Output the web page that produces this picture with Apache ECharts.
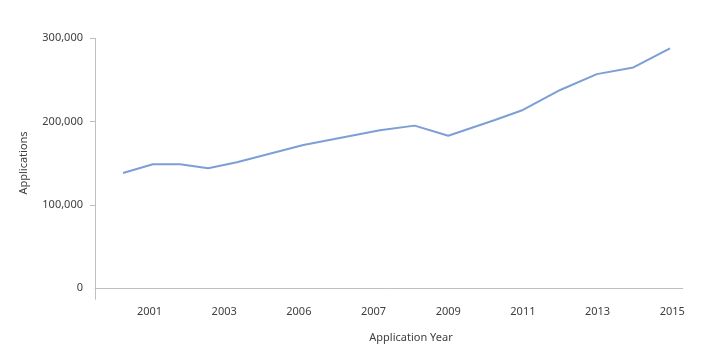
<!DOCTYPE html>
<html>
<head>
<meta charset="utf-8">
<script src="https://cdn.jsdelivr.net/npm/echarts@6/dist/echarts.min.js"></script>
<style>html,body{margin:0;padding:0;background:#fff}#c{width:720px;height:360px}</style>
</head>
<body>
<div id="c"></div>
<script>
// Data (x in years, y in applications)
const years = [2000.29, 2001.09, 2001.82, 2002.57, 2003.34, 2005.12, 2007.17, 2008.1, 2009.0, 2010.25, 2011.0, 2012.0, 2012.98, 2013.96, 2014.94];
const applications = [138400, 148800, 148800, 144000, 151200, 172000, 189600, 195200, 183000, 202000, 214000, 238000, 257000, 265000, 288000];
const xTickValues = [2001, 2003, 2005, 2007, 2009, 2011, 2013, 2015];
const xTickLabels = ['2001', '2003', '2006', '2007', '2009', '2011', '2013', '2015'];
const yTickValues = [0, 100000, 200000, 300000];

const FONT = 'Noto Sans';
const chart = echarts.init(document.getElementById('c'), null, {renderer: 'canvas'});
chart.setOption({
  animation: false,
  backgroundColor: '#ffffff',
  grid: {left: 95, right: 37.3, top: 38.3, bottom: 60.7, containLabel: false},
  xAxis: {
    type: 'value',
    min: 1999.54,
    max: 2015.28,
    axisLine: {show: true, lineStyle: {color: '#bfbfbf', width: 1}},
    axisTick: {show: false},
    splitLine: {show: false},
    axisLabel: {
      customValues: xTickValues,
      margin: 7,
      color: '#404040',
      fontFamily: FONT,
      fontSize: 11,
      formatter: function (v) {
        const i = xTickValues.indexOf(Math.round(v));
        return i >= 0 ? xTickLabels[i] : '';
      }
    }
  },
  yAxis: {
    type: 'value',
    min: -13200,
    max: 300000,
    axisLine: {show: true, lineStyle: {color: '#bfbfbf', width: 1}},
    axisTick: {show: true, length: 5, customValues: [100000, 200000, 300000], lineStyle: {color: '#bfbfbf'}},
    splitLine: {show: false},
    axisLabel: {
      customValues: yTickValues,
      margin: 12,
      color: '#404040',
      fontFamily: FONT,
      fontSize: 11,
      formatter: function (v) { return Math.round(v).toLocaleString('en-US'); }
    }
  },
  graphic: [
    {type: 'text', x: 24, y: 163, rotation: Math.PI / 2,
     style: {text: 'Applications', fill: '#404040', font: '11px "Noto Sans"', align: 'center', verticalAlign: 'middle'}},
    {type: 'text', x: 411, y: 337.5,
     style: {text: 'Application Year', fill: '#404040', font: '11px "Noto Sans"', align: 'center', verticalAlign: 'middle'}}
  ],
  series: [{
    type: 'line',
    data: years.map((x, i) => [x, applications[i]]),
    showSymbol: false,
    symbol: 'none',
    lineStyle: {color: '#7c9fd5', width: 2},
    itemStyle: {color: '#7c9fd5'}
  }]
});
</script>
</body>
</html>
